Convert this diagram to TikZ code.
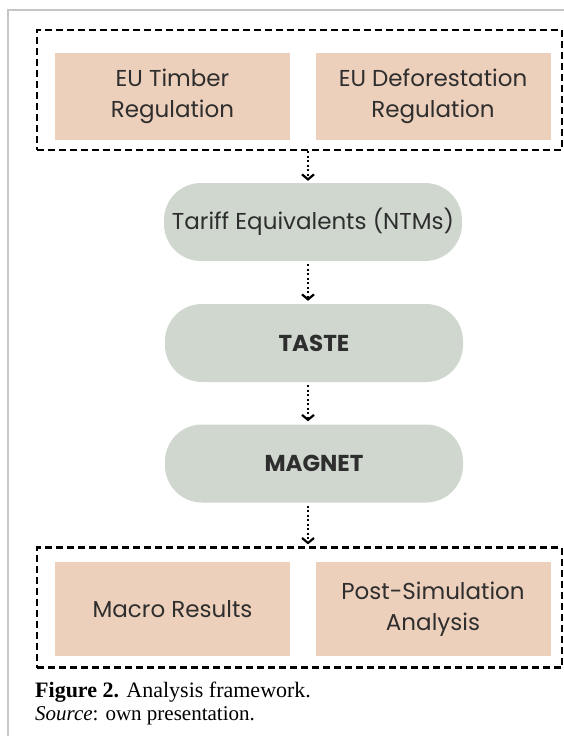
\documentclass[tikz,border=0pt]{standalone}
\usepackage{fontspec}
\setmainfont{Liberation Serif}
\newfontfamily\boxfont{Poppins}
\usetikzlibrary{arrows.meta,positioning}
\definecolor{box_pink}{HTML}{EDD0BB}
\definecolor{pill_gray}{HTML}{CFD7CF}
\definecolor{text_dark}{HTML}{2E2E2E}
\definecolor{frame_gray}{HTML}{C6C6C6}

\begin{document}
\begin{tikzpicture}[x=1pt, y=-1pt,
    regbox/.style={fill=box_pink, minimum width=235pt, minimum height=87pt, inner sep=0pt,
      align=center, text=text_dark, font=\boxfont\fontsize{23}{31}\selectfont},
    groupbox/.style={draw=black, line width=2.2pt, dash pattern=on 7pt off 4pt,
      minimum width=525pt, minimum height=120pt, inner sep=0pt},
    pill/.style={fill=pill_gray, rounded corners=37pt, minimum width=298pt, minimum height=78pt,
      inner sep=0pt, text=text_dark, font=\boxfont\fontsize{23}{31}\selectfont},
    flow/.style={line width=2.2pt, dash pattern=on 2pt off 2.5pt,
      -{Straight Barb[length=5pt, width=12pt, line width=2.2pt]}}
  ]
  \useasboundingbox (0,0) rectangle (564,736);

  % page frame
  \draw[frame_gray, line width=1.4pt] (8,736) -- (8,10) -- (564,10);

  % regulations
  \node[groupbox] (inputs) at (299.5,90) {};
  \node[regbox] (timber) at (172.5,96) {EU Timber\\Regulation};
  \node[regbox] (deforest) at (433,96) {EU Deforestation\\Regulation};

  % models
  \node[pill] (tariff) at (313,222) {Tariff Equivalents (NTMs)};
  \node[pill] (taste) at (314,343) {\bfseries TASTE};
  \node[pill] (magnet) at (314,463.5) {\bfseries MAGNET};

  % outputs
  \node[groupbox] (outputs) at (299.5,607.5) {};
  \node[regbox, minimum height=94pt] (macro) at (172.5,609) {Macro Results};
  \node[regbox, minimum height=94pt] (postsim) at (433,609) {Post-Simulation\\Analysis};

  \coordinate (axis) at (308,0);
  \draw[flow] (inputs.south -| axis) -- ([yshift=2pt]tariff.north -| axis);
  \draw[flow] ([yshift=-3pt]tariff.south -| axis) -- ([yshift=3pt]taste.north -| axis);
  \draw[flow] ([yshift=-3pt]taste.south -| axis) -- ([yshift=3pt]magnet.north -| axis);
  \draw[flow] ([yshift=-3pt]magnet.south -| axis) -- ([yshift=2pt]outputs.north -| axis);

  % caption
  \node[anchor=base west, inner sep=0pt, font=\fontsize{22}{24}\selectfont] (caption) at (35,697)
    {\textbf{Figure 2.} Analysis framework.};
  \node[anchor=base west, inner sep=0pt, font=\fontsize{21}{24}\selectfont] (source) at (35,720)
    {\textit{Source}: own presentation.};
\end{tikzpicture}
\end{document}
